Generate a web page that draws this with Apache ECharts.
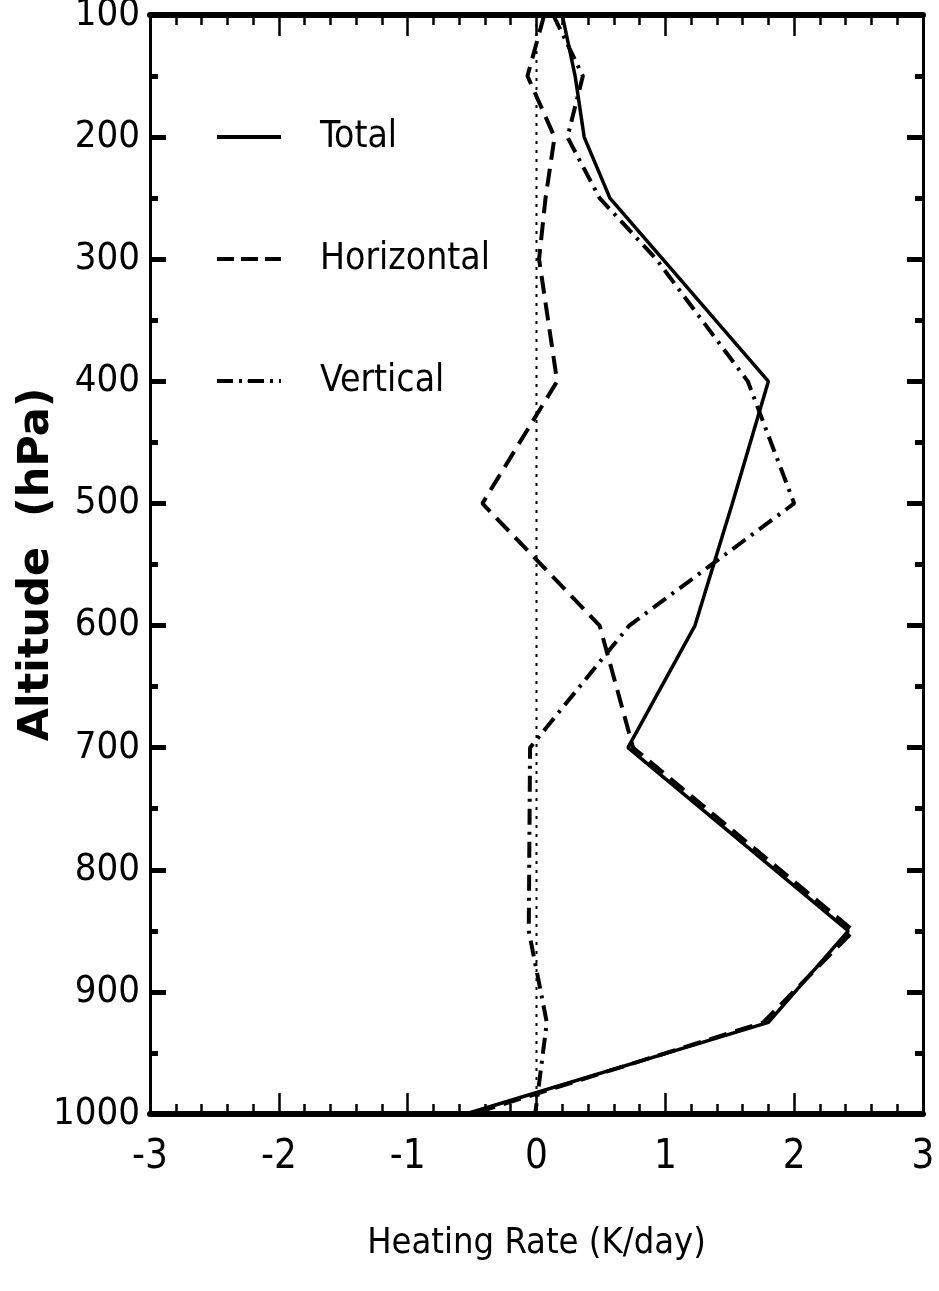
<!DOCTYPE html>
<html>
<head>
<meta charset="utf-8">
<script src="https://cdn.jsdelivr.net/npm/echarts@6/dist/echarts.min.js"></script>
<style>
html,body{margin:0;padding:0;background:#fff;}
#chart{width:939px;height:1291px;}
</style>
</head>
<body>
<div id="chart"></div>
<script>
// Pressure levels (hPa)
const levels = [100, 150, 200, 250, 300, 400, 500, 600, 700, 850, 925, 1000];
// Heating rates (K/day)
const total      = [0.20, 0.30, 0.37, 0.57, 0.98, 1.80, 1.52, 1.23, 0.71, 2.42, 1.80, -0.55];
const horizontal = [0.06, -0.07, 0.14, 0.07, 0.02, 0.16, -0.42, 0.49, 0.75, 2.46, 1.76, -0.50];
const vertical   = [0.13, 0.36, 0.24, 0.49, 0.93, 1.64, 2.00, 0.72, -0.05, -0.06, 0.08, -0.01];
const zeroLine   = [0, 0];
const zeroLevels = [100, 1000];
const seriesNames = ['Total', 'Horizontal', 'Vertical'];
const xTitle = 'Heating Rate (K/day)';
const yTitle = 'Altitude  (hPa)';

const NARROW = "'Liberation Sans Narrow','DejaVu Sans Condensed','Liberation Sans',sans-serif";
const pair = (xs, ys) => xs.map((v, i) => [v, ys[i]]);

const xAxisCommon = {
  type: 'value', min: -3, max: 3, interval: 1,
  splitLine: {show: false},
  axisLine: {show: true, onZero: false, lineStyle: {color: '#000', width: 6}},
  axisTick: {show: true, inside: true, length: 21, lineStyle: {color: '#000', width: 2.5}},
  minorTick: {show: true, splitNumber: 5, length: 10, lineStyle: {color: '#000', width: 2.5}},
  minorSplitLine: {show: false}
};
const yAxisCommon = {
  type: 'value', min: 100, max: 1000, interval: 100, inverse: true,
  splitLine: {show: false},
  axisLine: {show: true, onZero: false, lineStyle: {color: '#000', width: 3}},
  axisTick: {show: true, inside: true, length: 16, lineStyle: {color: '#000', width: 5}},
  minorTick: {show: true, splitNumber: 2, length: 8, lineStyle: {color: '#000', width: 5}},
  minorSplitLine: {show: false}
};

const chart = echarts.init(document.getElementById('chart'), null, {renderer: 'canvas'});
chart.setOption({
  animation: false,
  backgroundColor: '#fff',
  grid: {left: 150, right: 16, top: 15, bottom: 177, containLabel: false, outerBoundsMode: 'none'},
  xAxis: [
    Object.assign({}, xAxisCommon, {
      position: 'bottom',
      axisLabel: {show: true, color: '#000', fontSize: 40, fontFamily: NARROW, margin: 24,
                  formatter: v => String(v)},
      name: xTitle, nameLocation: 'middle', nameGap: 112, nameMoveOverlap: false,
      nameTextStyle: {color: '#000', fontSize: 36, fontFamily: NARROW}
    }),
    Object.assign({}, xAxisCommon, {position: 'top', axisLabel: {show: false}})
  ],
  yAxis: [
    Object.assign({}, yAxisCommon, {
      position: 'left',
      axisLabel: {show: true, color: '#000', fontSize: 38, fontFamily: NARROW, margin: 10,
                  formatter: v => String(v)},
      name: yTitle, nameLocation: 'middle', nameRotate: 90, nameGap: 92, nameMoveOverlap: false,
      nameTextStyle: {color: '#000', fontSize: 43, fontWeight: 'bold', fontFamily: "'DejaVu Sans',sans-serif"}
    }),
    Object.assign({}, yAxisCommon, {position: 'right', axisLabel: {show: false}})
  ],
  legend: {
    data: [
      {name: seriesNames[0], lineStyle: {width: 4, type: 'solid'}},
      {name: seriesNames[1], lineStyle: {width: 4, type: [17, 7]}},
      {name: seriesNames[2], lineStyle: {width: 4, type: [16, 6, 3, 6]}}
    ],
    orient: 'vertical',
    left: 215, top: 117,
    padding: 0,
    itemWidth: 64, itemHeight: 4,
    itemGap: 82,
    lineStyle: {width: 4},
    textStyle: {color: '#000', fontSize: 37, lineHeight: 40, fontFamily: NARROW, padding: [0, 0, 0, 34]},
    selectedMode: false
  },
  series: [
    {
      name: 'zero', type: 'line', xAxisIndex: 0, yAxisIndex: 0,
      data: pair(zeroLine, zeroLevels), symbol: 'none', silent: true, z: 1,
      lineStyle: {color: '#000', width: 2, type: [3, 6]}
    },
    {
      name: 'Total', type: 'line', xAxisIndex: 0, yAxisIndex: 0,
      data: pair(total, levels), symbol: 'none', z: 4,
      lineStyle: {color: '#000', width: 3.5, type: 'solid'}, itemStyle: {color: '#000'}
    },
    {
      name: 'Horizontal', type: 'line', xAxisIndex: 0, yAxisIndex: 0,
      data: pair(horizontal, levels), symbol: 'none', z: 3,
      lineStyle: {color: '#000', width: 4, type: [18, 9]}, itemStyle: {color: '#000'}
    },
    {
      name: 'Vertical', type: 'line', xAxisIndex: 0, yAxisIndex: 0,
      data: pair(vertical, levels), symbol: 'none', z: 3,
      lineStyle: {color: '#000', width: 4, type: [16, 7, 3, 7]}, itemStyle: {color: '#000'}
    }
  ]
});
</script>
</body>
</html>
